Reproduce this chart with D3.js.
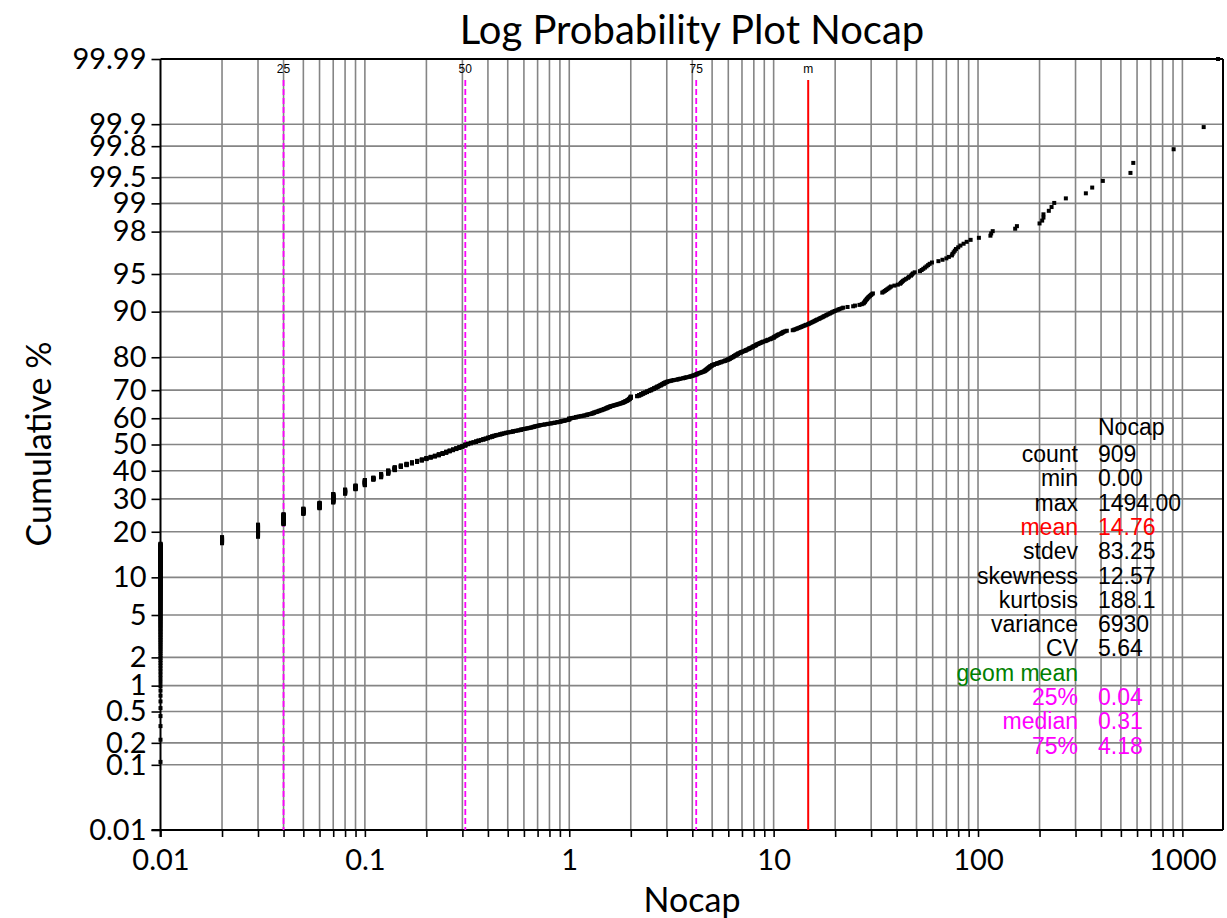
<!DOCTYPE html>
<html>
<head>
<meta charset="utf-8">
<script src="https://cdn.jsdelivr.net/npm/d3@7.9.0/dist/d3.min.js"></script>
<style>
  body { margin: 0; background: #fff; }
  svg { display: block; }
  .lbl { font-family: Lato, "Open Sans", sans-serif; fill: #000; }
  .stat { font-family: "Liberation Sans", Arial, sans-serif; font-size: 23px; }
</style>
</head>
<body>
<svg id="chart" width="1227" height="918"></svg>
<script>
// axis ticks
const yTicks = [0.01, 0.1, 0.2, 0.5, 1, 2, 5, 10, 20, 30, 40, 50, 60, 70, 80, 90, 95, 98, 99, 99.5, 99.8, 99.9, 99.99];
const xLabels = [0.01, 0.1, 1, 10, 100, 1000];

// Nocap values: [value, how many samples]
const lowSteps = [
  [0.01, 154], [0.02, 15], [0.03, 31], [0.04, 28], [0.05, 16], [0.06, 17], [0.07, 27],
  [0.08, 14], [0.09, 13], [0.10, 18], [0.11, 8], [0.12, 12], [0.13, 12], [0.14, 11],
  [0.15, 6], [0.16, 6], [0.17, 5], [0.18, 5], [0.19, 5], [0.20, 5], [0.21, 4], [0.22, 4],
  [0.23, 5], [0.24, 4], [0.25, 5], [0.26, 4], [0.27, 4], [0.28, 4], [0.29, 4], [0.30, 4],
  [0.31, 5]
];
const subOneSteps = [
  [0.32, 3], [0.33, 3], [0.34, 2], [0.35, 3], [0.36, 3], [0.37, 2], [0.38, 3], [0.39, 2],
  [0.40, 3], [0.41, 2], [0.42, 3], [0.43, 2], [0.44, 2], [0.45, 1], [0.46, 2], [0.47, 2],
  [0.48, 1], [0.49, 2], [0.50, 1], [0.51, 1], [0.52, 1], [0.53, 2], [0.54, 1], [0.55, 1],
  [0.56, 1], [0.57, 1], [0.58, 2], [0.59, 1], [0.60, 1], [0.61, 1], [0.62, 1], [0.63, 1],
  [0.64, 1], [0.65, 1], [0.66, 1], [0.67, 2], [0.68, 1], [0.69, 1], [0.70, 1], [0.71, 1],
  [0.72, 1], [0.73, 1], [0.75, 1], [0.76, 1], [0.78, 1], [0.79, 1], [0.81, 1], [0.82, 1],
  [0.84, 1], [0.85, 1], [0.87, 1], [0.88, 1], [0.90, 1], [0.91, 1], [0.92, 1], [0.94, 1],
  [0.95, 1], [0.96, 1], [0.98, 1], [0.99, 1], [1.00, 4]
];
const oneToTwoSteps = [
  [1.02, 1], [1.04, 1], [1.06, 1], [1.08, 2], [1.10, 1], [1.12, 1], [1.14, 1], [1.16, 1],
  [1.18, 1], [1.20, 1], [1.22, 2], [1.24, 1], [1.26, 1], [1.28, 1], [1.30, 2], [1.32, 2],
  [1.34, 1], [1.36, 2], [1.38, 1], [1.40, 2], [1.42, 1], [1.44, 2], [1.46, 1], [1.48, 2],
  [1.50, 1], [1.52, 2], [1.54, 2], [1.56, 1], [1.58, 2], [1.60, 1], [1.62, 1], [1.64, 1],
  [1.66, 1], [1.68, 1], [1.70, 1], [1.72, 1], [1.74, 1], [1.76, 1], [1.78, 1], [1.80, 1],
  [1.82, 1], [1.84, 2], [1.86, 1], [1.88, 2], [1.90, 1], [1.92, 2], [1.94, 2], [1.96, 2],
  [1.98, 3], [2.00, 5]
];
const twoToFiveSteps = [
  [2.15, 2], [2.20, 3], [2.25, 3], [2.30, 3], [2.35, 2], [2.40, 3], [2.45, 2], [2.50, 3],
  [2.55, 2], [2.60, 3], [2.65, 2], [2.70, 3], [2.75, 2], [2.80, 3], [2.85, 2], [2.90, 3],
  [2.95, 2], [3.00, 2], [3.05, 1], [3.10, 1], [3.15, 1], [3.20, 1], [3.25, 1], [3.35, 1],
  [3.40, 1], [3.45, 1], [3.50, 1], [3.60, 1], [3.65, 1], [3.70, 1], [3.75, 1], [3.85, 1],
  [3.90, 1], [3.95, 1], [4.00, 1], [4.05, 1], [4.10, 1], [4.15, 1], [4.20, 2], [4.25, 1],
  [4.30, 1], [4.35, 1], [4.40, 1], [4.45, 1], [4.50, 1], [4.55, 1], [4.60, 2], [4.65, 2],
  [4.70, 2], [4.75, 2], [4.80, 2], [4.85, 2], [4.90, 2], [4.95, 1], [5.00, 2]
];
const fiveToTenSteps = [
  [5.1, 2], [5.2, 1], [5.3, 2], [5.4, 1], [5.5, 2], [5.6, 1], [5.7, 1], [5.8, 2], [5.9, 1],
  [6.0, 2], [6.1, 2], [6.2, 2], [6.3, 2], [6.4, 2], [6.5, 2], [6.6, 2], [6.7, 2], [6.8, 1],
  [6.9, 2], [7.0, 1], [7.1, 1], [7.2, 1], [7.3, 2], [7.4, 1], [7.5, 1], [7.6, 2], [7.7, 1],
  [7.8, 1], [7.9, 2], [8.0, 1], [8.1, 1], [8.2, 2], [8.3, 1], [8.4, 1], [8.5, 1], [8.6, 1],
  [8.7, 1], [8.8, 1], [8.9, 1], [9.1, 1], [9.2, 1], [9.3, 1], [9.4, 1], [9.6, 1], [9.7, 1],
  [9.8, 1], [10.0, 2]
];
// single samples above 10
const tailValues = [
  10.1, 10.2, 10.3, 10.4, 10.5, 10.6, 10.8, 10.9, 11.0, 11.1, 11.2, 11.4, 11.6,
  12.4, 12.6, 12.8, 13.0, 13.2, 13.4, 13.6, 13.8, 14.0, 14.2, 14.4, 14.7,
  14.9, 15.1, 15.3, 15.5, 15.7, 15.9, 16.1, 16.3, 16.6,
  16.8, 17.0, 17.3, 17.5, 17.7, 18.0, 18.2, 18.5, 18.8, 19.0, 19.3, 19.6,
  19.9, 20.3, 20.7, 21.0, 21.5, 21.9,
  23.0, 24.5, 25.0, 26.3, 27.0,
  27.5, 27.7, 27.9, 28.0, 28.2, 28.4, 28.6, 28.8, 29.0, 29.3, 29.6, 29.9, 30.2, 30.6,
  34.0, 34.5, 35.0, 35.5, 36.0, 36.5, 37.0, 37.5,
  39.0, 40.5, 41.6, 42.0, 42.5, 43.0, 43.7,
  44.5, 45.5, 46.0, 47.0, 47.5, 48.0, 49.0,
  52.0, 53.0, 54.0, 55.0, 56.0, 57.0, 58.0, 59.5,
  64.0, 67.0, 70.0, 72.0,
  74.5, 75.0, 76.0, 77.0, 78.0, 80.0, 82.0, 85.0, 88.0,
  92, 101, 115, 116, 118, 152, 155,
  200, 206, 209, 209, 222, 229, 236,
  269, 337, 362, 408, 557, 575, 906, 1271, 1494
];

// summary table on the right
const statNames = ['count', 'min', 'max', 'mean', 'stdev', 'skewness', 'kurtosis', 'variance', 'CV', 'geom mean', '25%', 'median', '75%'];
const statValues = ['909', '0.00', '1494.00', '14.76', '83.25', '12.57', '188.1', '6930', '5.64', '', '0.04', '0.31', '4.18'];
const statColors = ['#000', '#000', '#000', '#ff0000', '#000', '#000', '#000', '#000', '#000', '#008000', '#ff00ff', '#ff00ff', '#ff00ff'];

// quantile / mean markers
const markerLabels = ['25', '50', '75', 'm'];
const markerValues = [0.04, 0.31, 4.18, 14.76];

// inverse normal cdf (Acklam)
function probit(p) {
  const a = [-3.969683028665376e+01, 2.209460984245205e+02, -2.759285104469687e+02, 1.383577518672690e+02, -3.066479806614716e+01, 2.506628277459239e+00];
  const b = [-5.447609879822406e+01, 1.615858368580409e+02, -1.556989798598866e+02, 6.680131188771972e+01, -1.328068155288572e+01];
  const c = [-7.784894002430293e-03, -3.223964580411365e-01, -2.400758277161838e+00, -2.549732539343734e+00, 4.374664141464968e+00, 2.938163982698783e+00];
  const d = [7.784695709041462e-03, 3.224671290700398e-01, 2.445134137142996e+00, 3.754408661907416e+00];
  const lo = 0.02425;
  let q, r;
  if (p < lo) {
    q = Math.sqrt(-2 * Math.log(p));
    return (((((c[0] * q + c[1]) * q + c[2]) * q + c[3]) * q + c[4]) * q + c[5]) / ((((d[0] * q + d[1]) * q + d[2]) * q + d[3]) * q + 1);
  }
  if (p > 1 - lo) return -probit(1 - p);
  q = p - 0.5;
  r = q * q;
  return (((((a[0] * r + a[1]) * r + a[2]) * r + a[3]) * r + a[4]) * r + a[5]) * q / (((((b[0] * r + b[1]) * r + b[2]) * r + b[3]) * r + b[4]) * r + 1);
}

// expand into the sorted sample list
const sorted = [];
[lowSteps, subOneSteps, oneToTwoSteps, twoToFiveSteps, fiveToTenSteps].forEach(steps => {
  steps.forEach(([v, n]) => { for (let k = 0; k < n; k++) sorted.push(v); });
});
tailValues.forEach(v => sorted.push(v));
const total = sorted.length;
const points = sorted.map((v, i) => ({ value: v, pct: Math.min((i + 1) / total, 0.9999) }));

// layout
const svg = d3.select('#chart');
const plotL = 160.5, plotR = 1223, plotT = 59, plotB = 830;

const x = d3.scaleLog().domain([0.01, 1580]).range([plotL, plotR]);
const y = d3.scaleLinear().domain([probit(0.0001), probit(0.9999)]).range([plotB, plotT]);

// grid values for log axis
const xGrid = [];
for (let e = -2; e <= 3; e++) {
  for (let k = 1; k <= 9; k++) {
    const v = +(k * Math.pow(10, e)).toPrecision(3);
    if (v <= 1580) xGrid.push(v);
  }
}

const grid = svg.append('g').attr('stroke', '#858585').attr('stroke-width', 1.6);
grid.selectAll('line.v').data(xGrid.filter(v => v > 0.01)).join('line')
  .attr('x1', d => x(d)).attr('x2', d => x(d))
  .attr('y1', plotT).attr('y2', plotB);
grid.selectAll('line.h').data(yTicks.slice(1, -1)).join('line')
  .attr('x1', plotL).attr('x2', plotR)
  .attr('y1', d => y(probit(d / 100))).attr('y2', d => y(probit(d / 100)));

// axes
const yAxis = d3.axisLeft(y)
  .tickValues(yTicks.map(p => probit(p / 100)))
  .tickFormat((d, i) => String(yTicks[i]))
  .tickSize(9).tickPadding(5);
const gy = svg.append('g').attr('transform', `translate(${plotL},0)`).call(yAxis);

const xAxis = d3.axisBottom(x)
  .tickValues(xGrid)
  .tickFormat(d => xLabels.includes(d) ? String(d) : '')
  .tickSize(7).tickPadding(12);
const gx = svg.append('g').attr('transform', `translate(0,${plotB})`).call(xAxis);

[gx, gy].forEach(g => {
  g.select('.domain').remove();
  g.selectAll('.tick line').attr('stroke', '#000').attr('stroke-width', 1.6);
  g.selectAll('.tick text').attr('class', 'lbl').attr('font-size', 29);
});

// frame
const frame = svg.append('g').attr('stroke', '#000').attr('stroke-width', 2).attr('fill', 'none');
frame.append('line').attr('x1', plotL).attr('x2', plotR).attr('y1', plotT).attr('y2', plotT);
frame.append('line').attr('x1', plotR).attr('x2', plotR).attr('y1', plotT).attr('y2', plotB);
frame.append('line').attr('x1', plotL - 9).attr('x2', plotR).attr('y1', plotB).attr('y2', plotB);
frame.append('line').attr('x1', plotL).attr('x2', plotL).attr('y1', plotT).attr('y2', plotB + 7);

// marker lines
markerValues.forEach((v, i) => {
  const isMean = markerLabels[i] === 'm';
  svg.append('line')
    .attr('x1', x(v)).attr('x2', x(v))
    .attr('y1', 80).attr('y2', plotB)
    .attr('stroke', isMean ? '#ff0000' : '#ff00ff')
    .attr('stroke-width', isMean ? 2 : 1.8)
    .attr('stroke-dasharray', isMean ? null : '6,3');
  svg.append('text')
    .attr('x', x(v)).attr('y', 73)
    .attr('text-anchor', 'middle')
    .attr('font-family', '"Liberation Sans", Arial, sans-serif')
    .attr('font-size', 12)
    .text(markerLabels[i]);
});

// data points
svg.append('g').selectAll('rect').data(points).join('rect')
  .attr('x', d => x(d.value) - 2)
  .attr('y', d => y(probit(d.pct)) - 2)
  .attr('width', 4).attr('height', 4)
  .attr('fill', '#000');

// summary table
const table = svg.append('g').attr('class', 'stat');
table.append('text').attr('x', 1098).attr('y', 435).text('Nocap');
statNames.forEach((name, i) => {
  const ty = 462 + i * 24.3;
  table.append('text').attr('x', 1078).attr('y', ty).attr('text-anchor', 'end')
    .attr('fill', statColors[i]).text(name);
  table.append('text').attr('x', 1098).attr('y', ty)
    .attr('fill', statColors[i]).text(statValues[i]);
});

// titles
svg.append('text').attr('class', 'lbl').attr('x', 692).attr('y', 44)
  .attr('text-anchor', 'middle').attr('font-size', 40).text('Log Probability Plot Nocap');
svg.append('text').attr('class', 'lbl').attr('x', 692).attr('y', 912)
  .attr('text-anchor', 'middle').attr('font-size', 34).text('Nocap');
svg.append('text').attr('class', 'lbl')
  .attr('transform', 'translate(51,444) rotate(-90)')
  .attr('text-anchor', 'middle').attr('font-size', 34).text('Cumulative %');
</script>
</body>
</html>
